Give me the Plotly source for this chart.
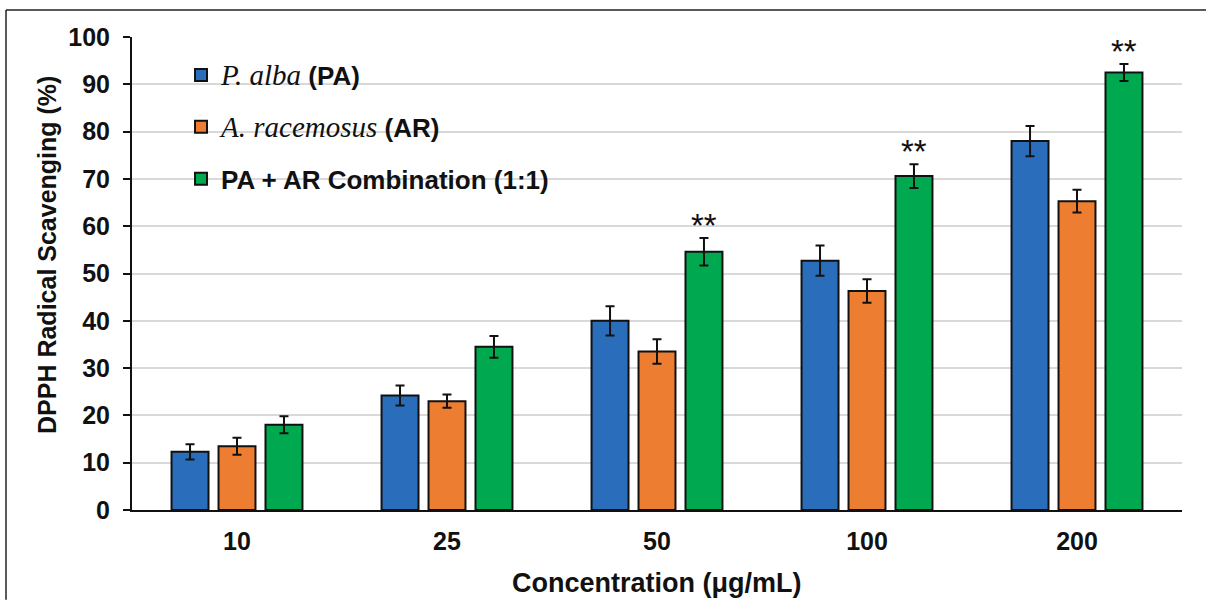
import plotly.graph_objects as go

categories = ["10", "25", "50", "100", "200"]
pa_values = [12.3, 24.2, 40.0, 52.7, 78.0]
pa_err = [1.6, 2.1, 3.1, 3.2, 3.2]
ar_values = [13.5, 23.0, 33.5, 46.3, 65.3]
ar_err = [1.8, 1.4, 2.6, 2.5, 2.4]
combo_values = [18.0, 34.5, 54.6, 70.6, 92.5]
combo_err = [1.8, 2.3, 2.9, 2.5, 1.8]
sig_labels = ["", "", "**", "**", "**"]

FONT = "Liberation Sans"
SERIF = "<span style=\"font-family:'Liberation Serif';font-weight:normal;font-size:29px\"><i>{}</i></span>"
series_names = [
    SERIF.format("P. alba") + " (PA)",
    SERIF.format("A. racemosus") + " (AR)",
    "PA + AR Combination (1:1)",
]
colors = ["#2A6EBB", "#ED7D31", "#00A84F"]

fig = go.Figure()
for i, (vals, errs) in enumerate([(pa_values, pa_err), (ar_values, ar_err), (combo_values, combo_err)]):
    fig.add_trace(go.Bar(
        x=categories, y=vals, name=series_names[i], legendgroup=f"g{i}",
        marker=dict(color=colors[i], line=dict(color="#111111", width=2)),
        error_y=dict(type="data", array=errs, visible=True, color="#111111", thickness=2, width=4.5),
    ))

# significance marks above the combination bars (x given as category index)
for idx, (v, e, s) in enumerate(zip(combo_values, combo_err, sig_labels)):
    if s:
        fig.add_annotation(x=idx, y=v + e, text=s, showarrow=False, xshift=47, yshift=-8,
                           yanchor="bottom", font=dict(family=FONT, size=33, color="#111111"))

# axis titles
fig.add_annotation(x=0.5, y=-0.1543, xref="paper", yref="paper", text="<b>Concentration (μg/mL)</b>",
                   showarrow=False, xanchor="center", yanchor="middle",
                   font=dict(family=FONT, size=27, color="#111111"))
fig.add_annotation(x=-0.081, y=0.539, xref="paper", yref="paper", text="<b>DPPH Radical Scavenging (%)</b>",
                   showarrow=False, xanchor="center", yanchor="middle", textangle=-90,
                   font=dict(family=FONT, size=25, color="#111111"))

# outer frame lines (left and top)
fig.add_shape(type="line", xref="paper", yref="paper", x0=-0.12, x1=1.0229, y0=1.057, y1=1.057,
              line=dict(color="#222222", width=1.5))
fig.add_shape(type="line", xref="paper", yref="paper", x0=-0.12, x1=-0.12, y0=1.057, y1=-0.19,
              line=dict(color="#222222", width=1.5))

fig.update_layout(
    width=1206, height=600,
    margin=dict(l=132, r=24, t=37, b=90),
    plot_bgcolor="white", paper_bgcolor="white",
    barmode="group", bargap=0.329, bargroupgap=0.213,
    font=dict(family=FONT, color="#111111"),
    legend=dict(x=0.0467, y=0.969, xanchor="left", yanchor="top",
                font=dict(family=FONT, size=26, color="#111111", weight="bold"),
                tracegroupgap=15, bgcolor="rgba(0,0,0,0)", itemwidth=30),
    showlegend=True,
)
fig.update_xaxes(
    type="category", range=[-0.5, len(categories) - 0.5],
    showline=True, linecolor="#111111", linewidth=2, ticks="", ticklabelstandoff=8,
    tickfont=dict(family=FONT, size=25, color="#111111", weight="bold"),
)
fig.update_yaxes(
    range=[0, 100], dtick=10, showline=True, linecolor="#111111", linewidth=2,
    ticks="outside", ticklen=7, tickwidth=2, tickcolor="#111111", ticklabelstandoff=8,
    showgrid=True, gridcolor="#D9D9D9", gridwidth=2, zeroline=False,
    tickfont=dict(family=FONT, size=25, color="#111111", weight="bold"),
)

fig.write_html("out.html")
